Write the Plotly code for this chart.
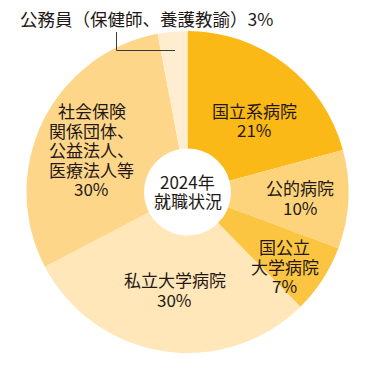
import math
import plotly.graph_objects as go

labels = ["国立系病院", "公的病院", "国公立大学病院", "私立大学病院",
          "社会保険関係団体、公益法人、医療法人等", "公務員（保健師、養護教諭）"]
label_lines = [["国立系病院", "21%"], ["公的病院", "10%"], ["国公立", "大学病院", "7%"],
               ["私立大学病院", "30%"], ["社会保険", "関係団体、", "公益法人、", "医療法人等", "30%"], []]
values = [21, 10, 7, 30, 30, 3]
colors = ["#FBB917", "#FDD47C", "#FCC541", "#FFE7B9", "#FED68A", "#FFEDD0"]
center_lines = ["2024年", "就職状況"]
note_text = "公務員（保健師、養護教諭）3%"
# label placement style: radial fraction and angular nudge (degrees)
label_rfrac = [0.61, 0.70, 0.76, 0.61, 0.65, 0]
label_dang = [5.5, 0.0, 4.5, -1.5, -2.0, 0]

W, H = 375, 385
cx, cy, r = 187.5, 192, 161
FONT = "Noto Sans CJK JP"
TXT = "#231815"
LS = 19.5  # line spacing in px


def add_lines(fig, lines, px, py, size=17):
    n = len(lines)
    for i, s in enumerate(lines):
        y = py + (i - (n - 1) / 2) * LS
        fig.add_annotation(x=px / W, y=1 - y / H, xref="paper", yref="paper",
                           xanchor="center", yanchor="middle",
                           height=19, borderpad=0,
                           text=s, showarrow=False,
                           font=dict(family=FONT, size=size, color=TXT))


fig = go.Figure(go.Pie(
    labels=labels, values=values,
    textinfo="none",
    sort=False, direction="clockwise", rotation=0,
    hole=0.27,
    marker=dict(colors=colors, line=dict(width=0)),
    domain=dict(x=[(cx - r) / W, (cx + r) / W], y=[(H - cy - r) / H, (H - cy + r) / H]),
    showlegend=False, hoverinfo="label+percent",
))

total = sum(values)
cum = 0
for v, lines, rf, da in zip(values, label_lines, label_rfrac, label_dang):
    mid = (cum + v / 2) / total * 360 + da
    cum += v
    if not lines:
        continue
    a = math.radians(mid)
    px = cx + rf * r * math.sin(a)
    py = cy - rf * r * math.cos(a)
    add_lines(fig, lines, px, py)

add_lines(fig, center_lines, cx, 191)

fig.add_annotation(x=18 / W, y=1 - 18 / H, xref="paper", yref="paper",
                   xanchor="left", yanchor="middle",
                   text=note_text, showarrow=False,
                   font=dict(family=FONT, size=17.5, color=TXT))
fig.add_shape(type="path", xref="paper", yref="paper",
              path=f"M {116.5/W} {1-32/H} L {116.5/W} {1-50.5/H} L {175/W} {1-50.5/H}",
              line=dict(color="#3a3a3a", width=1))

fig.update_layout(width=W, height=H, margin=dict(l=0, r=0, t=0, b=0),
                  paper_bgcolor="white", plot_bgcolor="white")
fig.write_html("out.html", config={"displayModeBar": False},
               post_script="document.body.style.margin='0';")
